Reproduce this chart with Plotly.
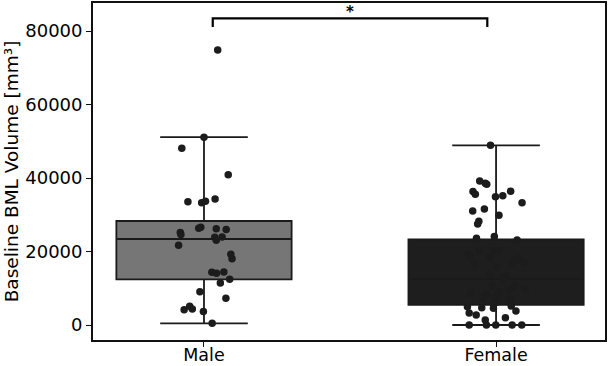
import plotly.graph_objects as go

categories = ["Male", "Female"]

# Box statistics: [Male, Female]
q1 = [12400, 5500]
median = [23400, 12500]
q3 = [28300, 23300]
lower_whisker = [460, 0]
upper_whisker = [51100, 48900]

# Individual observations (strip points) and their horizontal jitter
male_values = [74800, 51100, 48100, 40900, 33550, 33300, 33650, 34300, 26300, 26600,
               26200, 26000, 25200, 24600, 23900, 23950, 23050, 21700, 19250, 18050,
               14350, 14050, 14400, 12450, 11450, 9050, 7250, 4150, 5100, 4350, 3700, 460]
male_jitter = [0.047, 0.0, -0.076, 0.083, -0.055, -0.008, 0.005, 0.038, -0.018, -0.011,
               0.042, 0.076, -0.081, -0.079, 0.037, 0.062, 0.042, -0.087, 0.092, 0.096,
               0.027, 0.043, 0.068, 0.088, 0.056, -0.014, 0.075, -0.068, -0.049, -0.040,
               -0.002, 0.028]

female_values = [48900, 39200, 38550, 38300, 36300, 35550, 34900, 35200, 36400, 33300,
                 31000, 31550, 29850, 28200, 27500, 23600, 24050, 23150, 20200, 20200,
                 20050, 19300, 18800, 18400, 18150, 17700, 16950, 16950, 16600, 15850,
                 13800, 13150, 13350, 12500, 10600, 10450, 9800, 9500, 8900, 8700,
                 8250, 7250, 7700, 7250, 6250, 6200, 5650, 5000, 4700, 4550,
                 5150, 3800, 3250, 2700, 2000, 1350, 0, 0, 0, 0, 0]
female_jitter = [-0.019, -0.056, -0.037, -0.032, -0.079, -0.071, -0.002, 0.023, 0.050, 0.089,
                 -0.080, -0.040, 0.010, -0.059, -0.063, -0.067, -0.006, 0.072, -0.057, -0.010,
                 0.009, -0.098, -0.090, -0.021, 0.076, 0.064, 0.056, 0.096, -0.074, 0.003,
                 -0.024, 0.027, 0.037, 0.023, -0.016, 0.064, 0.100, 0.043, 0.011, -0.085,
                 -0.034, -0.045, -0.003, 0.046, 0.003, 0.049, -0.008, -0.098, -0.049, -0.009,
                 0.052, 0.068, -0.092, -0.068, 0.032, -0.037, -0.092, -0.033, -0.001, 0.055,
                 0.088]

y_ticks = [0, 20000, 40000, 60000, 80000]
y_title = "Baseline BML Volume [mm³]"
significance = "*"
bracket_y = [81100, 83450]

box_fills = ["#767676", "#1e1e1e"]
line_col = "#1a1a1a"
font = "DejaVu Sans"
fs = 17

fig = go.Figure()
for i, cat in enumerate(categories):
    fig.add_trace(go.Box(
        x=[i], q1=[q1[i]], median=[median[i]], q3=[q3[i]],
        lowerfence=[lower_whisker[i]], upperfence=[upper_whisker[i]],
        width=0.6, whiskerwidth=0.5, fillcolor=box_fills[i],
        line=dict(color=line_col, width=1.8), boxpoints=False,
        showlegend=False, hoverinfo="skip"))

for i, (vals, jit) in enumerate([(male_values, male_jitter), (female_values, female_jitter)]):
    fig.add_trace(go.Scatter(
        x=[i + j for j in jit], y=vals, mode="markers",
        marker=dict(color="#1c1c1c", size=7.5, line=dict(width=0)),
        showlegend=False))

# significance bracket
fig.add_trace(go.Scatter(
    x=[0.03, 0.03, 0.97, 0.97],
    y=[bracket_y[0], bracket_y[1], bracket_y[1], bracket_y[0]],
    mode="lines", line=dict(color="black", width=2.2), showlegend=False))
fig.add_annotation(x=0.5, y=bracket_y[1], text="<b>" + significance + "</b>", showarrow=False,
                   yanchor="bottom", yshift=-5, font=dict(family=font, size=15, color="#000000"))

fig.update_layout(
    width=609, height=366,
    margin=dict(l=93, r=4, t=3, b=26),
    paper_bgcolor="white", plot_bgcolor="white",
    font=dict(family=font, size=fs, color="black"),
)
fig.update_xaxes(range=[-0.38, 1.373], tickvals=[0, 1], ticktext=categories,
                 showgrid=False, zeroline=False, showline=True, mirror=True,
                 linecolor="#111111", linewidth=1.8, ticks="outside", ticklen=5,
                 tickcolor="#111111", tickfont=dict(size=17.5), automargin=False,
                 ticklabelstandoff=-7)
fig.update_yaxes(range=[-4080, 87620], tickvals=y_ticks, ticktext=[str(v) for v in y_ticks],
                 showgrid=False, zeroline=False, showline=True, mirror=True,
                 linecolor="#111111", linewidth=1.8, ticks="outside", ticklen=5,
                 tickcolor="#111111", tickfont=dict(size=18), automargin=False,
                 title=dict(text=y_title, font=dict(size=18.5), standoff=2))

fig.write_html("out.html")
